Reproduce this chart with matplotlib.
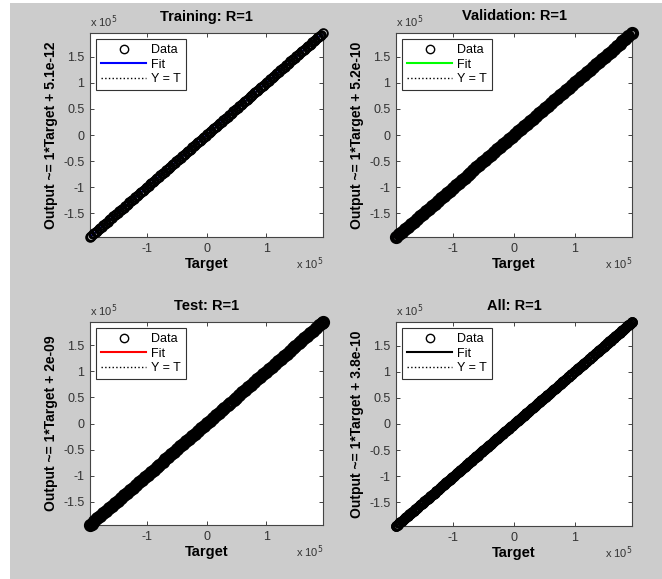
import matplotlib
matplotlib.use('Agg')
from matplotlib import pyplot as plt

plt.rcParams['font.family'] = ['Liberation Sans', 'DejaVu Sans']

# Targets (in thousands) read along the diagonal band of each panel.
# R = 1 in every panel, so the outputs equal the targets.
train_target_k = [
  -195.0, -192.6, -190.1, -187.7, -185.2, -182.8, -180.3, -177.9, -175.4, -173.0,
  -170.5, -168.1, -165.6, -163.2, -160.7, -158.3, -155.8, -153.4, -150.9, -148.5,
  -146.0, -143.6, -141.1, -138.7, -136.2, -133.8, -131.3, -128.9, -126.4, -124.0,
  -121.5, -119.1, -116.6, -114.2, -111.7, -109.3, -106.8, -104.4, -101.9, -99.5,
  -97.0, -94.6, -92.1, -89.7, -87.2, -84.8, -82.3, -79.9, -77.4, -75.0,
  -72.5, -70.1, -67.6, -65.2, -62.7, -60.3, -57.8, -55.4, -52.9, -50.5,
  -48.0, -45.6, -43.1, -40.7, -38.2, -35.8, -33.3, -30.9, -28.4, -26.0,
  -23.5, -21.1, -18.6, -16.2, -13.7, -11.3, -8.8, -6.4, -3.9, -1.5,
  1.0, 3.4, 5.9, 8.3, 10.8, 13.2, 15.7, 18.1, 20.6, 23.0,
  25.5, 27.9, 30.4, 32.8, 35.3, 37.7, 40.2, 42.6, 45.1, 47.5,
  50.0, 52.4, 54.9, 57.3, 59.8, 62.2, 64.7, 67.1, 69.6, 72.0,
  74.5, 76.9, 79.4, 81.8, 84.3, 86.7, 89.2, 91.6, 94.1, 96.5,
  99.0, 101.4, 103.9, 106.3, 108.8, 111.2, 113.7, 116.1, 118.6, 121.0,
  123.5, 125.9, 128.4, 130.8, 133.3, 135.7, 138.2, 140.6, 143.1, 145.5,
  148.0, 150.4, 152.9, 155.3, 157.8, 160.2, 162.7, 165.1, 167.6, 170.0,
  172.5, 174.9, 177.4, 179.8, 182.3, 184.7, 187.2, 189.6, 192.1, 195.0]
val_target_k = [
  -195.0, -190.1, -185.2, -180.2, -175.3, -170.4, -165.5, -160.5, -155.6, -150.7,
  -145.8, -140.8, -135.9, -131.0, -126.1, -121.1, -116.2, -111.3, -106.4, -101.4,
  -96.5, -91.6, -86.7, -81.7, -76.8, -71.9, -67.0, -62.0, -57.1, -52.2,
  -47.3, -42.3, -37.4, -32.5, -27.6, -22.6, -17.7, -12.8, -7.9, -2.9,
  2.0, 6.9, 11.8, 16.8, 21.7, 26.6, 31.5, 36.5, 41.4, 46.3,
  51.2, 56.2, 61.1, 66.0, 70.9, 75.9, 80.8, 85.7, 90.6, 95.6,
  100.5, 105.4, 110.3, 115.3, 120.2, 125.1, 130.0, 135.0, 139.9, 144.8,
  149.7, 154.7, 159.6, 164.5, 169.4, 174.4, 179.3, 184.2, 189.1, 195.0]
test_target_k = [
  -195.0, -192.4, -187.6, -182.5, -177.8, -172.6, -167.9, -162.7, -158.0, -152.8,
  -148.1, -142.9, -138.2, -133.0, -128.3, -123.1, -118.4, -113.2, -108.5, -103.3,
  -98.6, -93.4, -88.7, -83.5, -78.8, -73.6, -68.9, -63.7, -59.0, -53.8,
  -49.1, -43.9, -39.2, -34.0, -29.3, -24.1, -19.4, -14.2, -9.5, -4.3,
  0.4, 5.6, 10.3, 15.5, 20.2, 25.4, 30.1, 35.3, 40.0, 45.2,
  49.9, 55.1, 59.8, 65.0, 69.7, 74.9, 79.6, 84.8, 89.5, 94.7,
  99.4, 104.6, 109.3, 114.5, 119.2, 124.4, 129.1, 134.3, 139.0, 144.2,
  148.9, 154.1, 158.8, 164.0, 168.7, 173.9, 178.6, 183.8, 188.5, 193.0, 195.0]
all_target_k = train_target_k + val_target_k + test_target_k

titles = ['Training: R=1', 'Validation: R=1', 'Test: R=1', 'All: R=1']
ylabels = ['Output ~= 1*Target + 5.1e-12', 'Output ~= 1*Target + 5.2e-10',
           'Output ~= 1*Target + 2e-09', 'Output ~= 1*Target + 3.8e-10']
fit_colors = ['#0000ff', '#00ff00', '#ff0000', '#000000']
targets = [train_target_k, val_target_k, test_target_k, all_target_k]

xticks = [-1e5, 0, 1e5]
xticklabels = ['-1', '0', '1']
yticks = [-1.5e5, -1e5, -0.5e5, 0, 0.5e5, 1e5, 1.5e5]
yticklabels = ['-1.5', '-1', '-0.5', '0', '0.5', '1', '1.5']

BG = '#cccccc'
W, H = 662, 579
# axes boxes in pixels: left, top, right, bottom
boxes = [(90, 33, 323, 237), (396, 33, 632, 237),
         (90, 322, 323, 525), (396, 322, 632, 526)]
marker_sizes = [6.3, 6.5, 6.5, 6.3]
edge_widths = [1.3, 3.0, 3.0, 1.3]

fig = plt.figure(figsize=(W / 100, H / 100), dpi=100, facecolor='white')
fig.patches.append(plt.Rectangle((10 / W, 0), 1, 1 - 3 / H, transform=fig.transFigure,
                                 facecolor=BG, edgecolor='none', zorder=-10))

for i in range(4):
  l, t, r, b = boxes[i]
  ax = fig.add_axes([l / W, 1 - b / H, (r - l) / W, (b - t) / H])
  tgt = [v * 1000 for v in targets[i]]
  out = list(tgt)
  lo, hi = min(tgt), max(tgt)

  ax.plot(tgt, out, linestyle='none', marker='o', markersize=marker_sizes[i],
          markerfacecolor='none', markeredgecolor='black',
          markeredgewidth=edge_widths[i], label='Data', zorder=3, clip_on=False)
  ax.plot([lo, hi], [lo, hi], color=fit_colors[i], linewidth=1.5, label='Fit', zorder=2)
  ax.plot([lo, hi], [lo, hi], color='black', linestyle=':', linewidth=1,
          label='Y = T', zorder=2)

  ax.set_xlim(lo, hi)
  ax.set_ylim(lo, hi)
  ax.set_xticks(xticks)
  ax.set_xticklabels(xticklabels)
  ax.set_yticks(yticks)
  ax.set_yticklabels(yticklabels)
  ax.tick_params(direction='in', length=3, width=0.7, top=True, right=True,
                 labelsize=9, labelcolor='#333333', color='#444444', pad=4)
  for s in ax.spines.values():
    s.set_color('#444444')
    s.set_linewidth(0.8)

  ax.set_title(titles[i], fontsize=10.5, fontweight='bold', pad=9)
  ax.set_xlabel('Target', fontsize=10.5, fontweight='bold', labelpad=2)
  ax.set_ylabel(ylabels[i], fontsize=10, fontweight='bold', labelpad=4)

  ax.text(0, 1.015, 'x 10$^5$', transform=ax.transAxes, fontsize=8,
          color='#333333', ha='left', va='bottom')
  ax.text(1, -0.09, 'x 10$^5$', transform=ax.transAxes, fontsize=8,
          color='#333333', ha='right', va='top')

  leg = ax.legend(loc='upper left', fontsize=9, handlelength=3.6, numpoints=1,
                  fancybox=False, framealpha=1, edgecolor='#333333',
                  borderaxespad=0.5, labelspacing=0.2, handletextpad=0.4,
                  borderpad=0.4)
  leg.set_zorder(5)
  leg.get_frame().set_linewidth(0.8)
  leg.legend_handles[0].set_markeredgewidth(1.0)
  leg.legend_handles[0].set_markersize(6)

fig.savefig('out.png', dpi=100, facecolor=fig.get_facecolor())
